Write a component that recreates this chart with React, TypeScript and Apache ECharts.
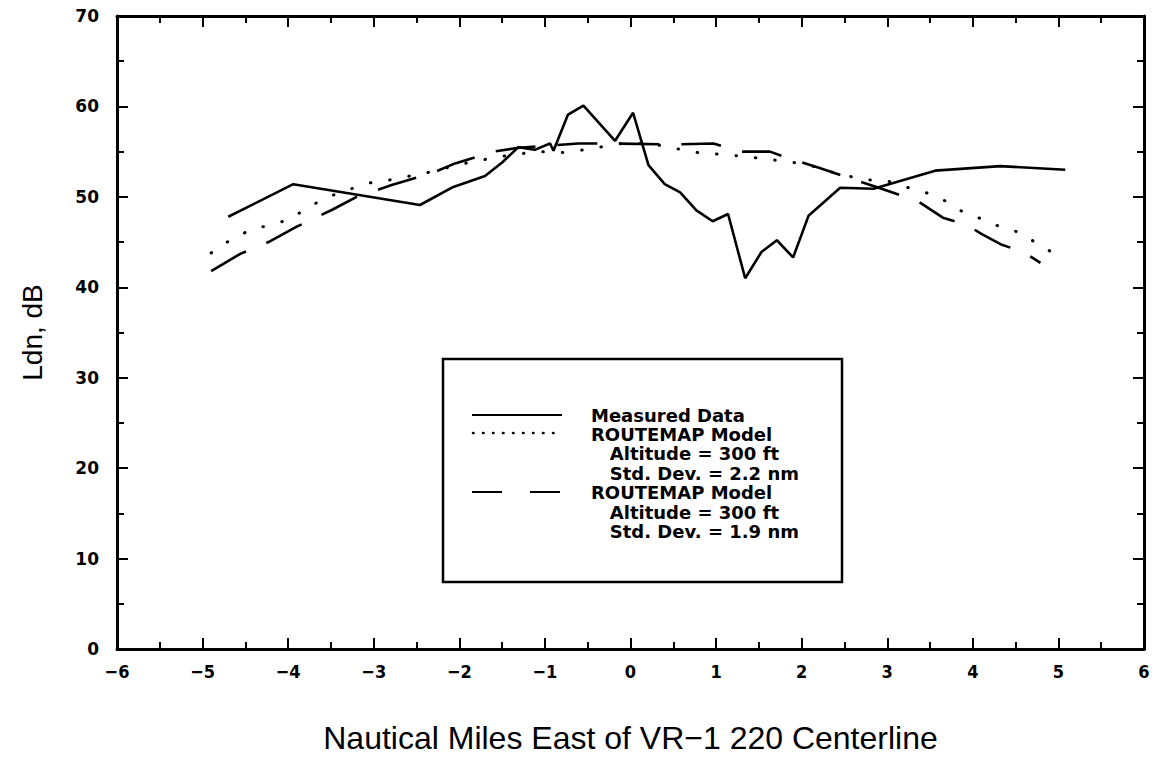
import React, { useEffect, useRef } from "react";
import * as echarts from "echarts";

// Measured Ldn data (nautical miles east of centerline, dB)
const measuredData: [number, number][] = [
  [-4.7, 47.8], [-3.94, 51.4], [-2.46, 49.1], [-2.07, 51.1], [-1.7, 52.3],
  [-1.5, 53.8], [-1.31, 55.5], [-1.12, 55.2], [-0.94, 55.9], [-0.9, 55.1],
  [-0.73, 59.1], [-0.55, 60.1], [-0.18, 56.2], [0.03, 59.3], [0.21, 53.5],
  [0.4, 51.4], [0.58, 50.5], [0.77, 48.5], [0.96, 47.3], [1.14, 48.1],
  [1.34, 41.0], [1.53, 43.9], [1.71, 45.2], [1.9, 43.3], [2.08, 47.9],
  [2.45, 51.0], [2.84, 50.9], [3.56, 52.9], [4.32, 53.4], [5.08, 53.0],
];

// ROUTEMAP model, altitude 300 ft, std. dev. 2.2 nm (dotted)
const model22Data: [number, number][] = [
  [-4.9, 43.8], [-4.68, 45.2], [-4.45, 46.3], [-4.21, 46.9], [-3.98, 47.5],
  [-3.76, 48.9], [-3.53, 50.0], [-3.32, 50.7], [-3.08, 51.5], [-2.85, 51.8],
  [-2.31, 52.8], [-2.03, 53.5], [-1.84, 53.9], [-1.49, 54.5], [-1.1, 55.0],
  [-0.75, 54.9], [-0.55, 55.2], [-0.1, 55.9], [0.11, 55.9], [0.46, 55.6],
  [0.62, 55.1], [0.79, 54.9], [1.3, 54.5], [1.83, 53.9], [2.06, 53.6],
  [2.33, 52.8], [2.72, 51.9], [2.99, 51.8], [3.21, 51.1], [3.42, 50.6],
  [3.65, 49.7], [3.89, 48.3], [4.12, 47.5], [4.34, 46.6], [4.57, 46.0],
  [4.69, 45.2], [4.92, 43.9],
];

// ROUTEMAP model, altitude 300 ft, std. dev. 1.9 nm (dashed)
const model19Data: [number, number][] = [
  [-4.9, 41.8], [-4.56, 43.7], [-4.23, 45.0], [-3.9, 46.7], [-3.48, 48.6],
  [-3.2, 50.0], [-2.79, 51.3], [-2.3, 52.7], [-2.05, 53.7], [-1.6, 55.0],
  [-1.33, 55.4], [-0.61, 55.9], [-0.2, 55.9], [0.52, 55.8], [0.97, 55.9],
  [1.28, 55.0], [1.63, 55.0], [1.9, 54.1], [2.21, 53.2], [2.68, 51.7],
  [2.9, 51.0], [3.36, 49.5], [3.65, 47.7], [3.93, 46.9], [4.1, 45.9],
  [4.34, 44.7], [4.59, 43.9], [4.79, 42.7],
];

const legendLines = [
  "Measured Data",
  "ROUTEMAP Model",
  "   Altitude = 300 ft",
  "   Std. Dev. = 2.2 nm",
  "ROUTEMAP Model",
  "   Altitude = 300 ft",
  "   Std. Dev. = 1.9 nm",
];

const xTitle = "Nautical Miles East of VR\u22121 220 Centerline";
const yTitle = "Ldn, dB";

const BLACK = "#000";

export default function App() {
  const ref = useRef<HTMLDivElement>(null);

  useEffect(() => {
    if (!ref.current) return;
    const chart = echarts.init(ref.current, undefined, { renderer: "svg" });

    const tickCommon = {
      axisLine: { show: true, onZero: false, lineStyle: { color: BLACK, width: 3 } },
      axisTick: { show: true, inside: true, length: 11, lineStyle: { color: BLACK, width: 2 } },
      minorTick: { show: true, splitNumber: 2, length: 7, lineStyle: { color: BLACK, width: 2 } },
      splitLine: { show: false },
      minorSplitLine: { show: false },
    };

    const labelFont = "'DejaVu Sans', sans-serif";
    const condFont = "'DejaVu Sans Condensed', 'DejaVu Sans', sans-serif";

    const legendTextX = 591;
    const legendTextY0 = 415;
    const legendStep = 19.4;

    const graphic: any[] = [
      {
        type: "rect",
        shape: { x: 443, y: 359, width: 399, height: 223 },
        style: { fill: "#fff", stroke: BLACK, lineWidth: 2.5 },
        z: 10,
      },
      {
        type: "line",
        shape: { x1: 472, y1: 415, x2: 562, y2: 415 },
        style: { stroke: BLACK, lineWidth: 2 },
        z: 11,
      },
      {
        type: "line",
        shape: { x1: 473, y1: 433, x2: 562, y2: 433 },
        style: { stroke: BLACK, lineWidth: 2.6, lineDash: [0.5, 9.5], lineCap: "round" },
        z: 11,
      },
      {
        type: "line",
        shape: { x1: 472, y1: 492, x2: 562, y2: 492 },
        style: { stroke: BLACK, lineWidth: 2, lineDash: [30, 28] },
        z: 11,
      },
      ...legendLines.map((t, i) => ({
        type: "text",
        x: legendTextX,
        y: legendTextY0 + i * legendStep,
        style: {
          text: t,
          fill: BLACK,
          font: `bold 18px ${labelFont}`,
          textVerticalAlign: "middle",
          textAlign: "left",
        },
        z: 11,
      })),
    ];

    chart.setOption({
      animation: false,
      backgroundColor: "#fff",
      grid: { left: 117, right: 11, top: 16, bottom: 110, containLabel: false },
      xAxis: [
        {
          type: "value",
          min: -6,
          max: 6,
          interval: 1,
          position: "bottom",
          ...tickCommon,
          axisLabel: {
            color: BLACK,
            fontSize: 18,
            fontWeight: "bold",
            fontFamily: condFont,
            margin: 13,
            formatter: (v: number) => (v < 0 ? "\u2212" + Math.abs(v) : String(v)),
          },
          name: xTitle,
          nameLocation: "middle",
          nameGap: 73,
          nameTextStyle: {
            color: BLACK,
            fontSize: 32,
            fontFamily: "'Liberation Sans', sans-serif",
          },
        },
        {
          type: "value",
          min: -6,
          max: 6,
          interval: 1,
          position: "top",
          ...tickCommon,
          axisLabel: { show: false },
        },
      ],
      yAxis: [
        {
          type: "value",
          min: 0,
          max: 70,
          interval: 10,
          position: "left",
          ...tickCommon,
          axisLabel: {
            color: BLACK,
            fontSize: 17,
            fontWeight: "bold",
            fontFamily: labelFont,
            margin: 18,
          },
          name: yTitle,
          nameLocation: "middle",
          nameGap: 71,
          nameRotate: 90,
          nameTextStyle: {
            color: BLACK,
            fontSize: 28,
            fontFamily: "'Liberation Sans', sans-serif",
          },
        },
        {
          type: "value",
          min: 0,
          max: 70,
          interval: 10,
          position: "right",
          ...tickCommon,
          axisLabel: { show: false },
        },
      ],
      series: [
        {
          name: "Measured Data",
          type: "line",
          data: measuredData,
          symbol: "none",
          lineStyle: { color: BLACK, width: 2.6 },
          z: 3,
        },
        {
          name: "ROUTEMAP Model 2.2 nm",
          type: "line",
          data: model22Data,
          symbol: "none",
          lineStyle: { color: BLACK, width: 3, type: [0.5, 19], cap: "round" },
          z: 2,
        },
        {
          name: "ROUTEMAP Model 1.9 nm",
          type: "line",
          data: model19Data,
          symbol: "none",
          lineStyle: { color: BLACK, width: 2.6, type: [40, 22] },
          z: 2,
        },
      ],
      graphic,
    });

    return () => chart.dispose();
  }, []);

  return (
    <div
      ref={ref}
      style={{ position: "absolute", left: 0, top: 0, width: 1155, height: 759, background: "#fff" }}
    />
  );
}
